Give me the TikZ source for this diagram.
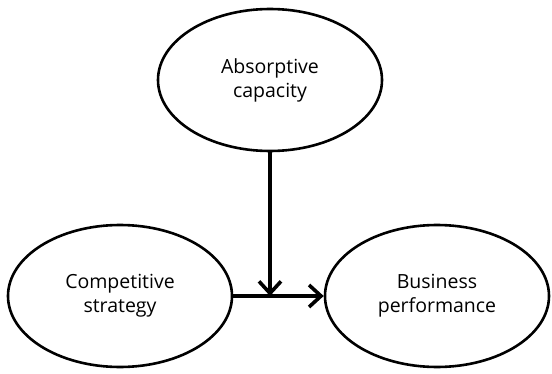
\documentclass[tikz,border=0pt]{standalone}
\usepackage{fontspec}
\setmainfont{Open Sans}
\usetikzlibrary{shapes.geometric,arrows.meta}

\begin{document}
\begin{tikzpicture}[x=1pt,y=1pt,
  factor/.style={ellipse, draw, line width=2.6pt, minimum width=224pt, minimum height=142pt,
                 inner sep=0pt, align=center, font=\fontsize{19.5}{24}\selectfont},
  link/.style={line width=3.6pt, -{Straight Barb[length=12pt,width=22pt,line width=3.6pt]}}]

\useasboundingbox (0,0) rectangle (552,373);

\node [factor] (absorb) at (270,293) {Absorptive\\capacity};
\node [factor] (strategy) at (120,77) {Competitive\\strategy};
\node [factor] (perf) at (437,77) {Business\\performance};

\draw [link] (strategy.east) -- (perf.west);
\draw [link] (absorb.south) -- (absorb.south |- strategy.east);

\end{tikzpicture}
\end{document}
